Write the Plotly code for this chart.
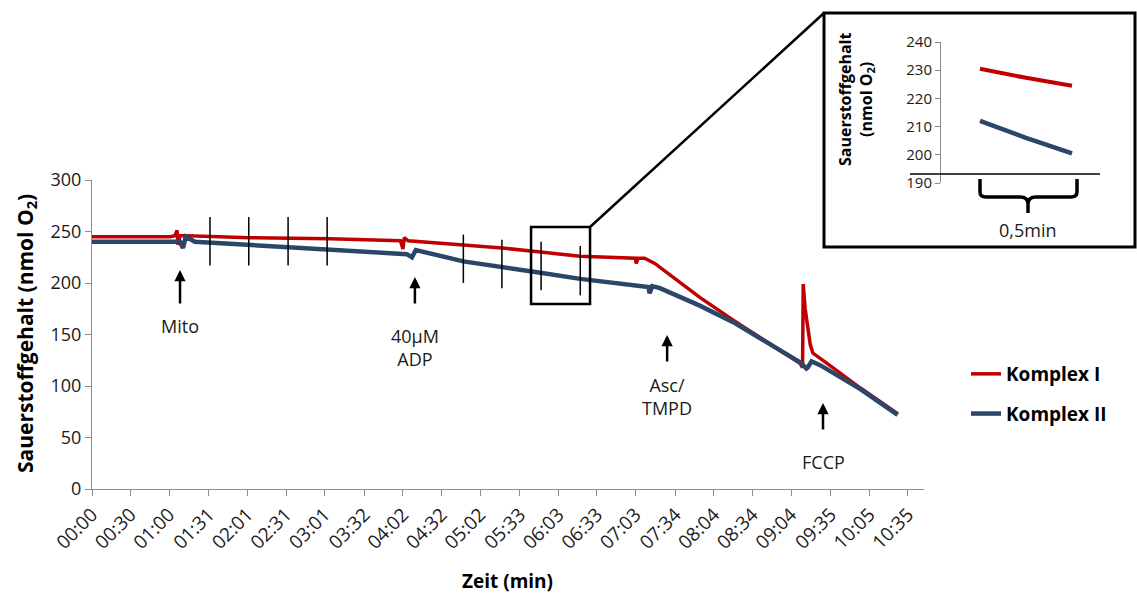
import plotly.graph_objects as go

W, H = 1137, 596

# ---------------- data ----------------
tick_labels = ["00:00", "00:30", "01:00", "01:31", "02:01", "02:31", "03:01", "03:32",
               "04:02", "04:32", "05:02", "05:33", "06:03", "06:33", "07:03", "07:34",
               "08:04", "08:34", "09:04", "09:35", "10:05", "10:35"]

red_t = [0, 60.7, 64.6, 66.2, 67, 68.5, 123, 185, 240, 242, 243, 246, 289, 319, 349, 380,
         423, 423.5, 425, 430, 438, 473, 499, 528, 551, 553, 553.5, 555, 557, 559, 561,
         567, 572, 598, 627]
red_v = [245, 245, 246, 251, 237, 246, 244, 243, 241, 233, 244, 241, 237, 234, 230, 226,
         224, 219, 224, 224, 219, 186, 164, 141, 122, 118, 199, 175, 154, 140, 132,
         126, 122, 98, 73]

blue_t = [0, 60.7, 68.5, 70.8, 73, 80, 123, 185, 245, 249, 252, 289, 319, 349, 380, 433,
          434, 436, 442, 473, 499, 551, 556, 557, 560, 567, 598, 627]
blue_v = [240, 240, 240, 234, 245, 240, 237, 232, 228, 225, 232, 221, 216, 210, 204, 196,
          190, 197, 195, 178, 162, 123, 117, 118, 124, 120, 97, 72]

# inset (zoomed section, 0.5 min)
inset_t = [0, 15, 30]
inset_red = [230.5, 227.3, 224.5]
inset_blue = [212, 206, 200.5]

# 30 s marker lines
marker_t = [91.8, 122, 152.6, 183, 289, 319, 349.5, 380]
marker_top = [264, 264, 264, 264, 247, 242, 240, 236]
marker_bot = [217, 217, 217, 217, 200, 195, 193, 188]

# zoom rectangle (data coords)
zoom_t = [341.7, 387.6]
zoom_v = [179.6, 254.4]

# additions: (time, arrow tip, arrow tail, text, text y)
add_t = [68.5, 251.3, 447.6, 568.9]
add_tip = [212.6, 205.8, 149.5, 83.5]
add_tail = [178.6, 178.6, 122.3, 56.3]
add_text = ["Mito", "40µM<br>ADP", "Asc/<br>TMPD", "FCCP"]
add_text_y = [158, 137, 90, 26]

# ---------------- layout helpers ----------------
X0, X1 = 92, 924       # main plot px
Y0, Y1 = 489, 180      # px for 0 and 300
XR = [0, 647.5]
YR = [0, 300]


def fx(px):
    return px / W


def fy(py):
    return 1 - py / H


def data_to_px(t, v):
    return (X0 + (t - XR[0]) / (XR[1] - XR[0]) * (X1 - X0),
            Y0 + (v - YR[0]) / (YR[1] - YR[0]) * (Y1 - Y0))


def sec(lbl):
    m, s = lbl.split(":")
    return int(m) * 60 + int(s)


RED = "#C00000"
BLUE = "#2B4669"
AX = "#8C8C8C"
FONT = "Open Sans"
TXT = "#1a1a1a"

fig = go.Figure()
fig.add_trace(go.Scatter(x=red_t, y=red_v, mode="lines", name="Komplex I",
                         line=dict(color=RED, width=3.5), legendgroup="a"))
fig.add_trace(go.Scatter(x=blue_t, y=blue_v, mode="lines", name="Komplex II",
                         line=dict(color=BLUE, width=4.5), legendgroup="b"))
fig.add_trace(go.Scatter(x=inset_t, y=inset_red, mode="lines", showlegend=False,
                         line=dict(color=RED, width=4), xaxis="x2", yaxis="y2"))
fig.add_trace(go.Scatter(x=inset_t, y=inset_blue, mode="lines", showlegend=False,
                         line=dict(color=BLUE, width=4.5), xaxis="x2", yaxis="y2"))

shapes = []
for t, a, b in zip(marker_t, marker_top, marker_bot):
    shapes.append(dict(type="line", xref="x", yref="y", x0=t, x1=t, y0=b, y1=a,
                       line=dict(color="black", width=1.5)))
shapes.append(dict(type="rect", xref="x", yref="y", x0=zoom_t[0], x1=zoom_t[1],
                   y0=zoom_v[0], y1=zoom_v[1], line=dict(color="black", width=2.5)))
cx, cy = data_to_px(zoom_t[1], zoom_v[1])
shapes.append(dict(type="line", xref="paper", yref="paper", x0=fx(cx), y0=fy(cy),
                   x1=fx(824), y1=fy(13), line=dict(color="black", width=2.5)))
# inset frame
shapes.append(dict(type="rect", xref="paper", yref="paper", x0=fx(824), x1=fx(1135),
                   y0=fy(247), y1=fy(13), line=dict(color="black", width=3),
                   fillcolor="rgba(0,0,0,0)"))
# inset horizontal line
shapes.append(dict(type="line", xref="paper", yref="paper", x0=fx(910), x1=fx(1100),
                   y0=fy(174), y1=fy(174), line=dict(color="black", width=1.5)))
# brace
pts = [("M", 980, 179), ("L", 980, 192), ("Q", 980, 197, 986, 197), ("L", 1020, 197),
       ("Q", 1028, 197, 1028, 204), ("L", 1028, 213), ("M", 1028, 204),
       ("Q", 1028, 197, 1036, 197), ("L", 1071, 197), ("Q", 1077, 197, 1077, 192),
       ("L", 1077, 179)]
path = ""
for p in pts:
    cmd = p[0]
    coords = p[1:]
    s = []
    for i in range(0, len(coords), 2):
        s.append(f"{fx(coords[i]):.5f},{fy(coords[i+1]):.5f}")
    path += cmd + " " + " ".join(s) + " "
shapes.append(dict(type="path", xref="paper", yref="paper", path=path.strip(),
                   line=dict(color="black", width=3.5)))

annotations = []
for t, tip, tail, txt, ty in zip(add_t, add_tip, add_tail, add_text, add_text_y):
    annotations.append(dict(x=t, y=tip, ax=t, ay=tail, xref="x", yref="y", axref="x",
                            ayref="y", text="", showarrow=True, arrowhead=2,
                            arrowsize=0.9, arrowwidth=2.5, arrowcolor="black"))
    annotations.append(dict(x=t, y=ty, xref="x", yref="y", text=txt, showarrow=False,
                            font=dict(family=FONT, size=18, color=TXT),
                            xanchor="center", yanchor="middle"))

annotations.append(dict(x=fx(26), y=fy(334), xref="paper", yref="paper",
                        text="Sauerstoffgehalt (nmol O<sub>2</sub>)", textangle=-90,
                        showarrow=False, font=dict(family=FONT, size=21, color="black",
                                                   weight="bold"),
                        xanchor="center", yanchor="middle"))
annotations.append(dict(x=fx(507), y=fy(581), xref="paper", yref="paper",
                        text="Zeit (min)", showarrow=False,
                        font=dict(family=FONT, size=19, color="black", weight="bold"),
                        xanchor="center", yanchor="middle"))
annotations.append(dict(x=fx(856), y=fy(100), xref="paper", yref="paper",
                        text="Sauerstoffgehalt<br>(nmol O<sub>2</sub>)", textangle=-90,
                        showarrow=False, font=dict(family=FONT, size=16, color="black",
                                                   weight="bold"),
                        xanchor="center", yanchor="middle"))
annotations.append(dict(x=fx(1028), y=fy(230), xref="paper", yref="paper",
                        text="0,5min", showarrow=False,
                        font=dict(family=FONT, size=18, color=TXT),
                        xanchor="center", yanchor="middle"))

inset_px0 = 980
inset_pps = (1072 - 980) / 30.0

fig.update_layout(
    width=W, height=H,
    autosize=False,
    margin=dict(l=0, r=0, t=0, b=0, pad=0, autoexpand=False),
    paper_bgcolor="white", plot_bgcolor="white",
    font=dict(family=FONT, color=TXT),
    showlegend=True,
    legend=dict(x=fx(966), y=fy(355), xanchor="left", yanchor="top",
                font=dict(family=FONT, size=19, color="black", weight="bold"),
                tracegroupgap=12, itemwidth=30, bgcolor="rgba(0,0,0,0)"),
    xaxis=dict(domain=[fx(X0), fx(X1)], range=XR, showgrid=False, zeroline=False,
               automargin=False,
               showline=True, linecolor=AX, linewidth=1.2, ticks="outside",
               ticklen=6, tickcolor=AX, tickvals=[sec(l) for l in tick_labels],
               ticktext=tick_labels, tickangle=-45,
               tickfont=dict(family=FONT, size=19, color=TXT)),
    yaxis=dict(domain=[fy(Y0), fy(Y1)], range=YR, showgrid=False, zeroline=False,
               automargin=False,
               showline=True, linecolor=AX, linewidth=1.2, ticks="outside",
               ticklen=6, tickcolor=AX, dtick=50,
               tickfont=dict(family=FONT, size=18, color=TXT)),
    xaxis2=dict(domain=[fx(941), fx(1100)], anchor="y2", automargin=False,
                range=[(941 - inset_px0) / inset_pps, (1100 - inset_px0) / inset_pps],
                visible=False),
    yaxis2=dict(domain=[fy(183), fy(42)], anchor="x2", range=[190, 240], dtick=10,
                automargin=False,
                showgrid=False, zeroline=False, showline=True, linecolor=AX,
                linewidth=1, ticks="outside", ticklen=5, tickcolor=AX,
                tickfont=dict(family=FONT, size=15, color=TXT)),
    shapes=shapes,
    annotations=annotations,
)

fig.write_html("out.html",
               config={"displayModeBar": False},
               post_script="document.body.style.margin='0px';"
                           "document.body.style.overflow='hidden';")
